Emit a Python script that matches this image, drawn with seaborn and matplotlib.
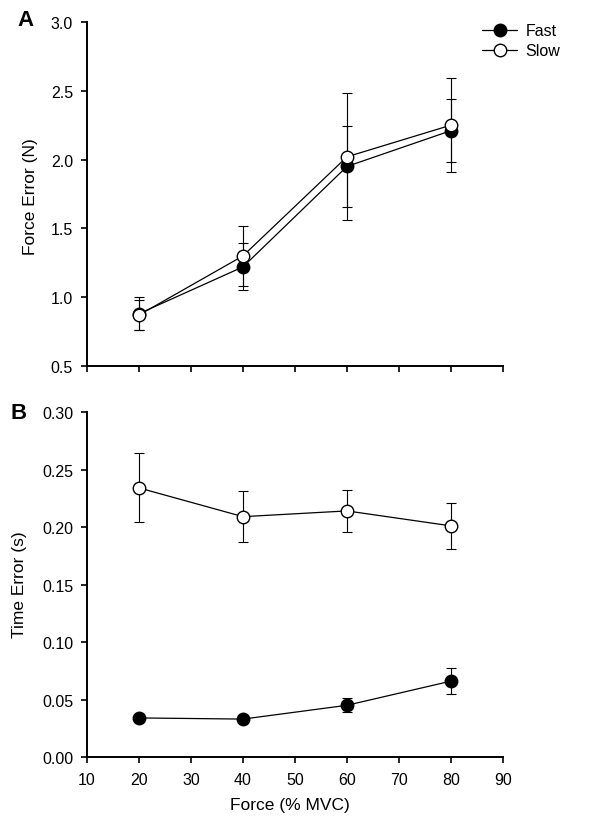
import matplotlib
matplotlib.use("Agg")
import matplotlib.pyplot as plt
import seaborn as sns
import pandas as pd
from matplotlib.lines import Line2D

force = [20, 40, 60, 80]
force_err_fast = [0.88, 1.22, 1.95, 2.21]
force_err_fast_se = [0.12, 0.17, 0.295, 0.23]
force_err_slow = [0.87, 1.30, 2.02, 2.25]
force_err_slow_se = [0.11, 0.22, 0.46, 0.34]
time_err_fast = [0.034, 0.033, 0.045, 0.066]
time_err_fast_se = [0.003, 0.002, 0.006, 0.011]
time_err_slow = [0.234, 0.209, 0.214, 0.201]
time_err_slow_se = [0.030, 0.022, 0.018, 0.020]

sns.set_style("ticks")
plt.rcParams['font.family'] = ['Liberation Sans', 'DejaVu Sans']
plt.rcParams['font.size'] = 11.5
for k in ('text.color', 'axes.labelcolor', 'xtick.color', 'ytick.color', 'axes.edgecolor'):
    plt.rcParams[k] = 'black'

fig = plt.figure(figsize=(6.02, 8.28), dpi=100)
ax1 = fig.add_axes([0.1445, 0.5568, 0.691, 0.4155])
ax2 = fig.add_axes([0.1445, 0.0845, 0.691, 0.4167])

MS = 9

def draw(ax, y_fast, e_fast, y_slow, e_slow):
    for y, e in ((y_fast, e_fast), (y_slow, e_slow)):
        ax.errorbar(force, y, yerr=e, fmt='none', ecolor='black', elinewidth=0.8,
                    capsize=3.5, capthick=0.8, zorder=2)
    df_f = pd.DataFrame({'x': force, 'y': y_fast})
    df_s = pd.DataFrame({'x': force, 'y': y_slow})
    sns.lineplot(data=df_f, x='x', y='y', ax=ax, color='black', lw=0.9, marker='o',
                 markersize=MS, markerfacecolor='black', markeredgecolor='black',
                 markeredgewidth=1.0, zorder=3)
    sns.lineplot(data=df_s, x='x', y='y', ax=ax, color='black', lw=0.9, marker='o',
                 markersize=MS, markerfacecolor='white', markeredgecolor='black',
                 markeredgewidth=1.0, zorder=4)
    ax.set_xlim(10, 90)
    ax.set_xticks(range(10, 91, 10))
    for s in ('top', 'right'):
        ax.spines[s].set_visible(False)
    for s in ('left', 'bottom'):
        ax.spines[s].set_linewidth(1.4)
    ax.tick_params(direction='out', length=4, width=1.2, labelsize=11.5, color='black')
    ax.tick_params(axis='x', pad=7)
    ax.tick_params(axis='y', pad=6)
    ax.set_xlabel('')
    ax.set_ylabel('')

draw(ax1, force_err_fast, force_err_fast_se, force_err_slow, force_err_slow_se)
ax1.set_ylim(0.5, 3.0)
ax1.set_yticks([0.5, 1.0, 1.5, 2.0, 2.5, 3.0])
ax1.set_yticklabels(['0.5', '1.0', '1.5', '2.0', '2.5', '3.0'])
ax1.set_xticklabels([])

draw(ax2, time_err_fast, time_err_fast_se, time_err_slow, time_err_slow_se)
ax2.set_ylim(0.0, 0.30)
ax2.set_yticks([0.0, 0.05, 0.10, 0.15, 0.20, 0.25, 0.30])
ax2.set_yticklabels(['0.00', '0.05', '0.10', '0.15', '0.20', '0.25', '0.30'])

W, H = 602, 828
fig.text(30 / W, 1 - 197 / H, 'Force Error (N)', rotation=90, ha='center', va='center', fontsize=12.5)
fig.text(20 / W, 1 - 585 / H, 'Time Error (s)', rotation=90, ha='center', va='center', fontsize=12.5)
fig.text(290 / W, 1 - 806 / H, 'Force (% MVC)', ha='center', va='center', fontsize=12.5)

handles = [Line2D([], [], color='black', lw=0.9, marker='o', markersize=MS,
                  markerfacecolor='black', markeredgecolor='black'),
           Line2D([], [], color='black', lw=0.9, marker='o', markersize=MS,
                  markerfacecolor='white', markeredgecolor='black')]
fig.legend(handles, ['Fast', 'Slow'], loc='upper left', bbox_to_anchor=(0.777, 0.988),
           frameon=False, fontsize=11.5, handlelength=2.2, handletextpad=0.5,
           labelspacing=0.3)

fig.text(25 / W, 1 - 20 / H, 'A', fontsize=16, fontweight='bold', va='center', ha='center')
fig.text(19 / W, 1 - 414 / H, 'B', fontsize=16, fontweight='bold', va='center', ha='center')

fig.savefig('out.png', dpi=100)
